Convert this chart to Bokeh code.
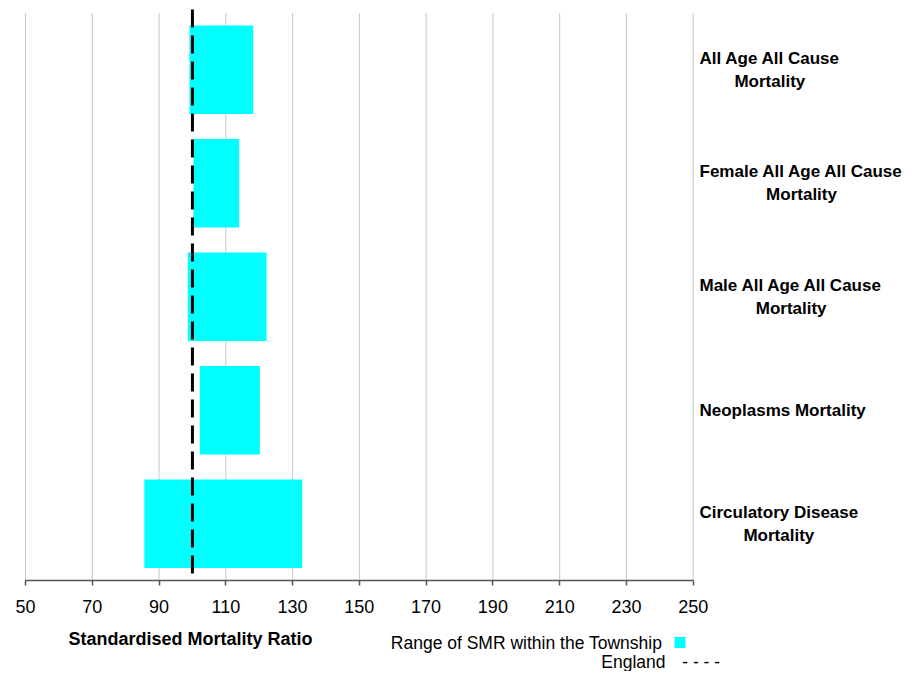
from bokeh.plotting import figure
from bokeh.models import Range1d, FixedTicker, ColumnDataSource
from bokeh.core.properties import value
from bokeh.embed import file_html
from bokeh.resources import INLINE

# ---------------- data ----------------
categories = [
    "All Age All Cause Mortality",
    "Female All Age All Cause Mortality",
    "Male All Age All Cause Mortality",
    "Neoplasms Mortality",
    "Circulatory Disease Mortality",
]
smr_low = [99.1, 100.3, 98.6, 102.2, 85.6]
smr_high = [118.2, 114.0, 122.2, 120.2, 132.9]
england_smr = 100
x_ticks = [50, 70, 90, 110, 130, 150, 170, 190, 210, 230, 250]
x_title = "Standardised Mortality Ratio"
legend_range = "Range of SMR within the Township"
legend_england = "England"

# ---------------- layout constants (pixels) ----------------
FONT = "Liberation Sans"
W, H = 906, 671
PX_LEFT, PX_RIGHT = 25.0, 692.7      # where the first / last tick sit
PX_TOP, PX_BOTTOM = 12.5, 580.0      # top of the category bands / the x axis
n = len(categories)
BAND = (PX_BOTTOM - PX_TOP) / n
XK = (x_ticks[-1] - x_ticks[0]) / (PX_RIGHT - PX_LEFT)


def dx(px):
    return x_ticks[0] + (px - PX_LEFT) * XK


def dy(py):
    return (n - 0.5) - (py - PX_TOP) / BAND


BOLD_W = {"A": 722, "l": 278, "g": 611, "e": 556, "C": 722, "a": 556, "u": 611,
          "s": 556, "M": 833, "o": 611, "r": 389, "t": 333, "i": 278, "y": 556,
          "F": 611, "m": 889, "N": 722, "p": 611, "c": 556, "D": 722, " ": 278,
          "d": 611, "n": 611, "h": 611}


def em_width(s):
    return sum(BOLD_W.get(ch, 600) for ch in s) / 1000.0


def wrap(label, limit_em=12.2):
    words = label.split(" ")
    lines, cur = [], ""
    for w in words:
        trial = w if not cur else cur + " " + w
        if em_width(trial) <= limit_em:
            cur = trial
        else:
            lines.append(cur)
            cur = w
    lines.append(cur)
    return lines


ys = [n - 1 - i for i in range(n)]
src = ColumnDataSource(dict(y=ys, left=smr_low, right=smr_high, cat=categories))

p = figure(width=W, height=H, output_backend="svg", toolbar_location=None,
           x_range=Range1d(dx(0), dx(W)), y_range=Range1d(dy(H), dy(0)),
           y_axis_location=None,
           min_border_left=0, min_border_right=0, min_border_top=0, min_border_bottom=0)
p.outline_line_color = None
p.background_fill_color = "white"
p.border_fill_color = "white"
for g in p.grid:
    g.visible = False
p.xgrid.visible = False
p.ygrid.visible = False

ax = p.xaxis[0]
ax.fixed_location = -0.5
ax.bounds = (x_ticks[0], x_ticks[-1])
ax.ticker = FixedTicker(ticks=x_ticks)
ax.axis_line_color = "#555555"
ax.axis_line_width = 1.5
ax.major_tick_line_color = "#555555"
ax.major_tick_line_width = 1.5
ax.major_tick_in = 0
ax.major_tick_out = 5
ax.minor_tick_line_color = None
ax.major_label_text_font = FONT
ax.major_label_text_font_size = "18px"
ax.major_label_text_color = "black"
ax.major_label_standoff = 14

# vertical grid lines at the ticks, spanning the category bands
p.segment(x0=x_ticks, y0=[-0.5] * len(x_ticks), x1=x_ticks, y1=[n - 0.5] * len(x_ticks),
          line_color="#c8c8c8", line_width=1)

# SMR range bars
p.hbar(y="y", left="left", right="right", height=0.78, source=src,
       fill_color="#00FFFF", line_color=None)

# England reference line
p.segment(x0=[england_smr], y0=[dy(9)], x1=[england_smr], y1=[-0.5],
          line_color="black", line_width=3, line_dash="18 8")

# category labels on the right (left-aligned block, centred lines)
lab_fs = 17.0
line_gap = 22.7
block_left = 699.0
tx, ty, tt = [], [], []
for cat, y in zip(categories, ys):
    lines = wrap(cat)
    block_w = max(em_width(l) for l in lines) * lab_fs
    cx = dx(block_left + block_w / 2)
    k = len(lines)
    for j, line in enumerate(lines):
        off_px = ((k - 1) / 2 - j) * line_gap
        tx.append(cx)
        ty.append(y + off_px / BAND)
        tt.append(line)
p.text(x=tx, y=ty, text=tt, text_align="center", text_baseline="middle",
       text_font=value(FONT), text_font_style="bold", text_font_size=f"{lab_fs}px",
       text_color="black")

# x axis title
p.text(x=[dx(190)], y=[dy(638.5)], text=[x_title], text_align="center",
       text_baseline="middle", text_font=value(FONT), text_font_style="bold",
       text_font_size="18px", text_color="black")

# legend
p.text(x=[dx(661.7)], y=[dy(642)], text=[legend_range], text_align="right",
       text_baseline="middle", text_font=value(FONT), text_font_size="17.5px",
       text_color="black")
p.scatter(x=[dx(679.5)], y=[dy(642)], marker="square", size=11,
          fill_color="#00FFFF", line_color=None)
p.text(x=[dx(665)], y=[dy(661)], text=[legend_england], text_align="right",
       text_baseline="middle", text_font=value(FONT), text_font_size="17.5px",
       text_color="black")
p.text(x=[dx(681.7)], y=[dy(661)], text=["- - - -"], text_align="left",
       text_baseline="middle", text_font=value(FONT), text_font_size="17.5px",
       text_color="black")

open("out.html", "w").write(file_html(p, INLINE))
